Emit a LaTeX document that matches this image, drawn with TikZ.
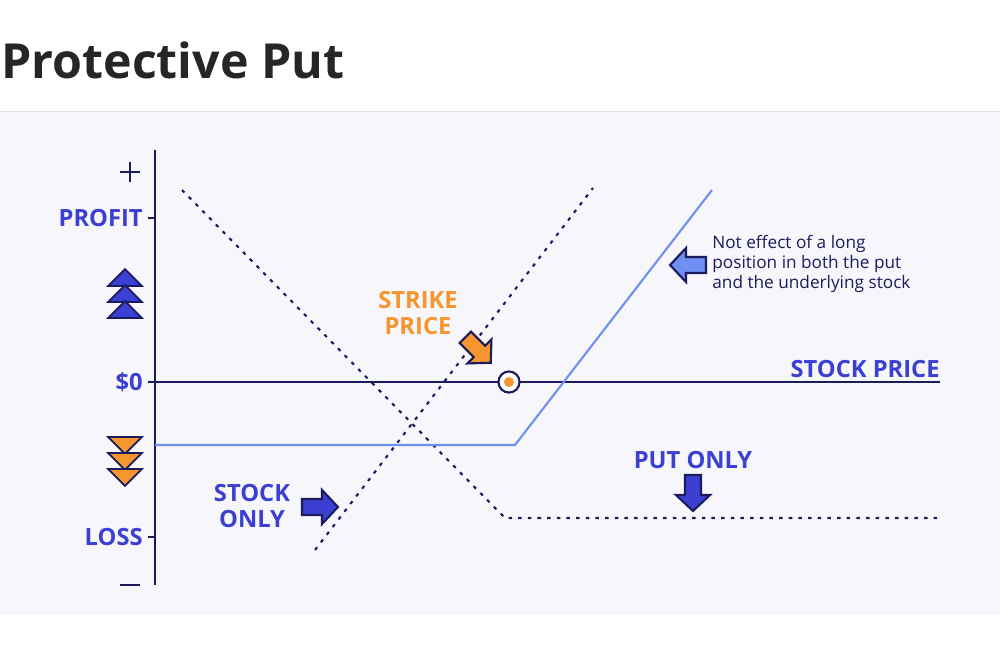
\documentclass[tikz,border=0pt]{standalone}
\usepackage{fontspec}
\setmainfont{Open Sans}
\usetikzlibrary{shapes.geometric}
\begin{document}
\begin{tikzpicture}[x=0.02cm,y=-0.02cm]
\definecolor{navy}{HTML}{1B1B5E}
\definecolor{labelblue}{HTML}{3B40D2}
\definecolor{lightblue}{HTML}{6F8FF2}
\definecolor{strikeorange}{HTML}{F7962F}
\definecolor{panel}{HTML}{F7F6FA}
\tikzset{
  axislabel/.style={text=labelblue,font=\bfseries\fontsize{13.5}{14}\selectfont,anchor=east,inner sep=0pt},
  tri/.style={isosceles triangle,isosceles triangle stretches,draw=navy,line width=1pt,inner sep=0pt,minimum width=19pt,minimum height=9.5pt},
  pics/blockarrow/.style={code={
    \draw[navy,line width=1.2pt,fill=#1,line join=miter] (-18,-8) -- (2,-8) -- (2,-17) -- (18,0) -- (2,17) -- (2,8) -- (-18,8) -- cycle;
  }}
}
\useasboundingbox (0,0) rectangle (1000,660);
\fill[white] (0,0) rectangle (1000,660);
\fill[panel] (0,112) rectangle (1000,615);
\draw[black!12] (0,111) -- (1000,111);
\node[anchor=base west,inner sep=0pt,text=black!85,font=\bfseries\fontsize{27.5}{30}\selectfont] (title) at (1,78) {Protective Put};

% axes
\coordinate (ytop) at (155,150);
\coordinate (ybot) at (155,585);
\coordinate (xend) at (940,382);
\coordinate (origin) at (155,382);
\draw[navy,line width=1.2pt] (ytop) -- (ybot);
\draw[navy,line width=1.2pt] (origin) -- (xend);
\foreach \y in {218,382,537}{
\draw[navy,line width=1.2pt] (148,\y) -- (155,\y);
}
\draw[navy,line width=1.2pt] (120,172) -- (140,172) (130,162) -- (130,182);
\draw[navy,line width=1.2pt] (120,585) -- (140,585);
\node[axislabel] (profit) at (143,218) {PROFIT};
\node[axislabel] (zero) at (143,382) {\$0};
\node[axislabel] (loss) at (143,537) {LOSS};
\node[text=labelblue,font=\bfseries\fontsize{13.5}{14}\selectfont,anchor=base east,inner sep=0pt] (stockprice) at (940,377) {STOCK PRICE};

% triangles
\foreach \y in {0,1,2}{
\node[tri,fill=labelblue,rotate=90] (up\y) at (125,279+16*\y) {};
\node[tri,fill=strikeorange,rotate=-90] (down\y) at (125,444+16*\y) {};
}

% payoff lines
\draw[navy,line width=1.2pt,dash pattern=on 2pt off 3.5pt] (182,190) -- (505,518) -- (940,518);
\draw[navy,line width=1.2pt,dash pattern=on 2pt off 3.5pt] (315,550) -- (593,188);
\draw[lightblue,line width=1.2pt] (155,445) -- (515,445) -- (712,190);

% strike
\node[circle,draw=navy,fill=white,line width=1.2pt,inner sep=0pt,minimum size=12pt] (strike) at (509,382) {};
\fill[strikeorange] (strike.center) circle (5);
\node[text=strikeorange,font=\bfseries\fontsize{13.5}{15}\selectfont,align=center,inner sep=0pt] (strikelabel) at (418,313) {STRIKE\\PRICE};
\pic[rotate=-45] at (478,350) {blockarrow=strikeorange};

% notes
\node[anchor=north west,align=left,inner sep=0pt,text=navy,font=\fontsize{9.8}{11.5}\selectfont] (note) at (712,235) {Not effect of a long\\position in both the put\\and the underlying stock};
\pic[rotate=180] at (688,265) {blockarrow=lightblue};
\node[text=labelblue,font=\bfseries\fontsize{13.5}{14}\selectfont,inner sep=0pt] (putonly) at (693,460) {PUT ONLY};
\pic[rotate=-90] at (693,493) {blockarrow=labelblue};
\node[text=labelblue,font=\bfseries\fontsize{13.5}{15}\selectfont,align=center,inner sep=0pt] (stockonly) at (252,506) {STOCK\\ONLY};
\pic at (320,507) {blockarrow=labelblue};
\end{tikzpicture}
\end{document}
